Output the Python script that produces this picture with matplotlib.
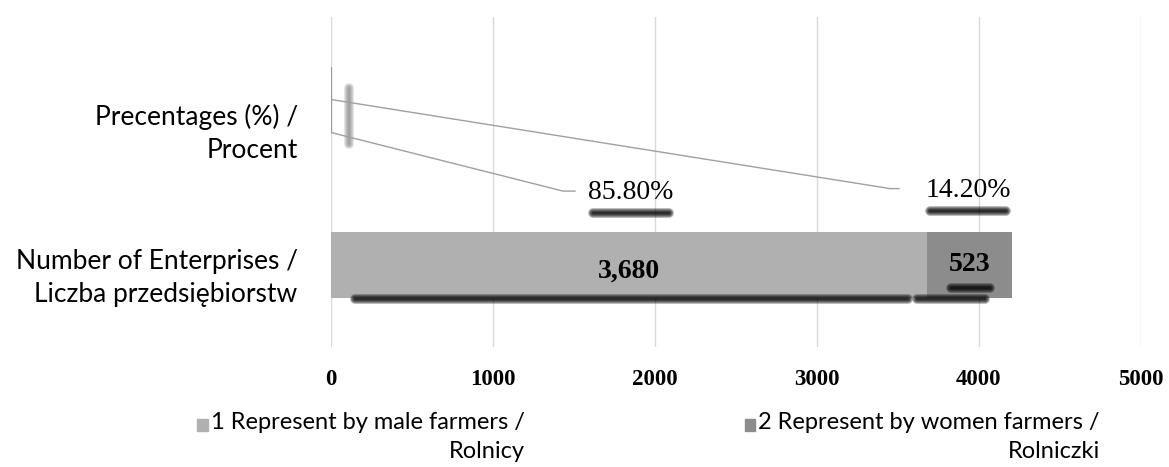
import numpy as np
import matplotlib.pyplot as plt
from matplotlib.patches import Rectangle

# dane z wykresu
categories = ["Number of Enterprises /\nLiczba przedsiębiorstw", "Precentages (%) /\nProcent"]
series_names = ["1 Represent by male farmers /\nRolnicy", "2 Represent by women farmers /\nRolniczki"]
male = [3680, 0.858]
women = [523, 0.142]
colors = ["#b0b0b0", "#8c8c8c"]
xticks = [0, 1000, 2000, 3000, 4000, 5000]

# miejsca etykiet procentowych (ręcznie przesunięte jak w Excelu)
pct_label_pos = [(1852, 0.435), (3932, 0.45)]
pct_elbow = [(1432, 1506), (3451, 3506)]

W, H = 1169, 467
fig = plt.figure(figsize=(W / 100, H / 100), dpi=100)
ax = fig.add_axes([331 / W, 1 - 347 / H, 810 / W, 330 / H])

y = np.arange(len(categories))
h = 0.4
ax.barh(y[0], male[0], height=h, color=colors[0], zorder=2)
ax.barh(y[0], women[0], left=male[0], height=h, color=colors[1], zorder=2)
ax.barh(y[1], male[1], height=h, color=colors[0], edgecolor="#9a9a9a", lw=1.5, zorder=2)
ax.barh(y[1], women[1], left=male[1], height=h, color=colors[1], edgecolor="#9a9a9a", lw=1.5, zorder=2)


def shadow(x0, x1, y0, y1, col="k", a=0.3):
    for lw in [7, 5.5, 4, 2.6, 1.3]:
        ax.plot([x0, x1], [y0, y1], color=col, lw=lw, alpha=a,
                solid_capstyle="round", zorder=3)


# cienie
yb = y[0] - h / 2 - 0.012
shadow(150, 3560, yb, yb)
shadow(3620, 4040, yb, yb)
shadow(111, 111, y[1] + 0.07, y[1] - 0.27, col="#888888", a=0.25)

# etykiety liczbowe
ax.text(male[0] / 2, y[0] - 0.04, f"{male[0]:,}", ha="center", va="center",
        family="Liberation Serif", weight="bold", fontsize=20, zorder=4)
ax.text(male[0] + women[0] / 2, y[0], f"{women[0]}", ha="center", va="center",
        family="Liberation Serif", weight="bold", fontsize=20, zorder=4)
shadow(3830, 4070, y[0] - 0.14, y[0] - 0.14)

# etykiety procentowe z liniami
starts = [(0, y[1] - h / 2), (0, y[1])]
vals = [male[1], women[1]]
for (lx, ly), (ex, hx), (sx, sy), v in zip(pct_label_pos, pct_elbow, starts, vals):
    ax.plot([sx, ex, hx], [sy, ly + 0.01, ly + 0.01], color="#a0a0a0", lw=1, zorder=3)
    ax.text(lx, ly, f"{v * 100:.2f}%", ha="center", va="center",
            family="Liberation Serif", fontsize=20, zorder=4)
    shadow(lx - 235, lx + 235, ly - 0.125, ly - 0.125)

ax.set_xlim(0, 5000)
ax.set_ylim(-0.5, 1.5)
ax.set_xticks(xticks)
ax.set_xticklabels([str(t) for t in xticks], family="Liberation Serif",
                   weight="bold", fontsize=16.5)
ax.set_yticks([-0.045, 0.835])
ax.set_yticklabels(categories, family="Lato", fontsize=19, ha="right",
                   multialignment="right", linespacing=1.4)
ax.tick_params(length=0)
ax.tick_params(axis="x", pad=16)
ax.tick_params(axis="y", pad=24)
ax.grid(axis="x", color="#d9d9d9", lw=1, zorder=0)
ax.set_axisbelow(True)
for s in ax.spines.values():
    s.set_visible(False)

# legenda
legend_right = [525, 1100]
fig.canvas.draw()
r = fig.canvas.get_renderer()
for tx, name, c in zip(legend_right, series_names, colors):
    t = fig.text(tx / W, 1 - 412 / H, name, ha="right", va="top",
                 multialignment="right", family="Lato", fontsize=17, linespacing=1.45)
    first = fig.text(0, 0, name.split("\n")[0], family="Lato", fontsize=17)
    fw = first.get_window_extent(r).width
    first.remove()
    x_left = tx - fw
    fig.patches.append(Rectangle(((x_left - 14) / W, 1 - 431 / H), 11 / W, 12 / H,
                                 transform=fig.transFigure, color=c))

fig.savefig("out.png", dpi=100)
